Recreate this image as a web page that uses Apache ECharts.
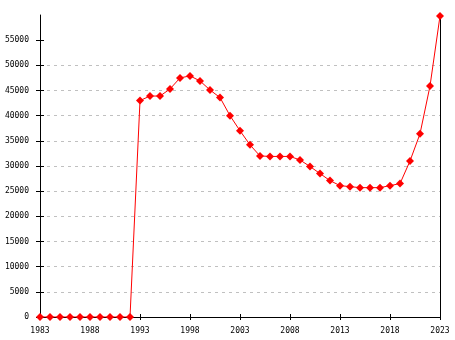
<!DOCTYPE html>
<html>
<head>
<meta charset="utf-8">
<script src="https://cdn.jsdelivr.net/npm/echarts@6/dist/echarts.min.js"></script>
<style>html,body{margin:0;padding:0;background:#fff}#c{width:455px;height:340px}</style>
</head>
<body>
<div id="c"></div>
<script>
const years = [1983,1984,1985,1986,1987,1988,1989,1990,1991,1992,1993,1994,1995,1996,1997,1998,1999,2000,2001,2002,2003,2004,2005,2006,2007,2008,2009,2010,2011,2012,2013,2014,2015,2016,2017,2018,2019,2020,2021,2022,2023];
const values = [0,0,0,0,0,0,0,0,0,0,43000,43900,43900,45300,47500,47900,46900,45100,43600,40000,37000,34200,32000,31900,31900,31900,31200,29900,28500,27100,26100,25900,25700,25700,25700,26100,26500,31000,36400,45900,59800];
const yTicks = [0,5000,10000,15000,20000,25000,30000,35000,40000,45000,50000,55000];
const xTicks = [1983,1988,1993,1998,2003,2008,2013,2018,2023];

const font = {fontFamily:'DejaVu Sans Mono', fontSize:8, color:'#000'};
const chart = echarts.init(document.getElementById('c'), null, {renderer:'canvas'});
const yBase = {type:'value', min:0, max:60000, interval:5000};
const xBase = {type:'value', min:1983, max:2023, interval:5};
chart.setOption({
  animation:false,
  grid:{left:40,right:15,top:15,bottom:23,containLabel:false},
  xAxis:[
    Object.assign({}, xBase, {
      position:'bottom',
      axisLine:{show:true,lineStyle:{color:'#000',width:1}},
      axisTick:{show:true,length:3,inside:false,lineStyle:{color:'#000'},customValues:xTicks},
      axisLabel:Object.assign({show:true,margin:10,customValues:xTicks,formatter:v=>String(v)},font),
      splitLine:{show:false}
    }),
    Object.assign({}, xBase, {
      position:'bottom',
      axisLine:{show:false},
      axisTick:{show:true,length:3,inside:true,lineStyle:{color:'#000'},customValues:xTicks},
      axisLabel:{show:false},
      splitLine:{show:false}
    })
  ],
  yAxis:[
    Object.assign({}, yBase, {
      position:'left',
      axisLine:{show:true,lineStyle:{color:'#000',width:1}},
      axisTick:{show:true,length:4,inside:false,lineStyle:{color:'#000'},customValues:yTicks},
      axisLabel:Object.assign({show:true,margin:11,customValues:yTicks,formatter:v=>String(v)},font),
      splitLine:{show:true,showMinLine:false,showMaxLine:false,lineStyle:{color:'#c0c0c0',type:[3,4],width:1}}
    }),
    Object.assign({}, yBase, {
      position:'left',
      axisLine:{show:false},
      axisTick:{show:true,length:4,inside:true,lineStyle:{color:'#000'},customValues:yTicks},
      axisLabel:{show:false},
      splitLine:{show:false}
    }),
    Object.assign({}, yBase, {
      position:'right',
      axisLine:{show:true,lineStyle:{color:'#000',width:1}},
      axisTick:{show:false},
      axisLabel:{show:false},
      splitLine:{show:false}
    })
  ],
  series:[{
    type:'line',
    data:years.map((y,i)=>[y,values[i]]),
    xAxisIndex:0,
    yAxisIndex:0,
    symbol:'diamond',
    symbolSize:8,
    showAllSymbol:true,
    lineStyle:{color:'#ff0000',width:1},
    itemStyle:{color:'#ff0000'},
    emphasis:{disabled:true},
    z:5
  }]
});
</script>
</body>
</html>
